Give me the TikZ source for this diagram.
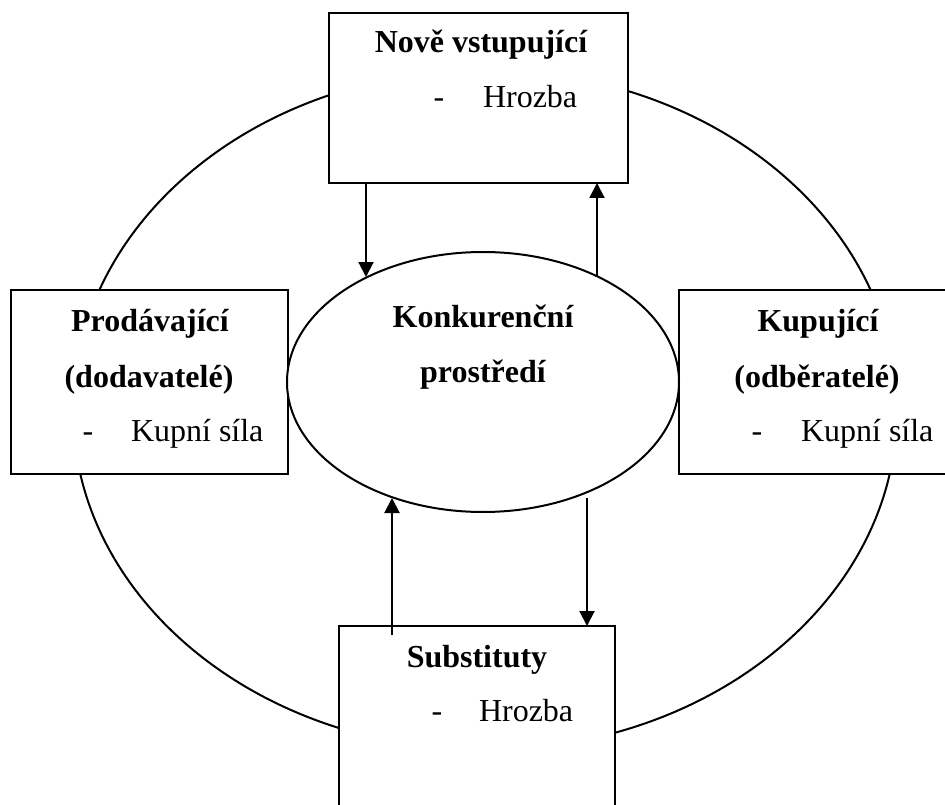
\documentclass[tikz,border=0pt]{standalone}
\usepackage{fontspec}
\setmainfont{Liberation Serif}
\usetikzlibrary{shapes.geometric,arrows.meta}
\begin{document}
\begin{tikzpicture}[x=1pt,y=-1pt, line width=2pt,
  box/.style={draw, fill=white, rectangle, outer sep=0pt, inner sep=0pt},
  oval/.style={draw, ellipse, outer sep=0pt, inner sep=0pt},
  arr/.style={-{Triangle[length=15pt,width=15pt]}, line width=2pt},
  title/.style={font=\fontsize{32}{40}\selectfont\bfseries, anchor=base, inner sep=0pt},
  txt/.style={font=\fontsize{32}{40}\selectfont, anchor=base, inner sep=0pt},
  txtw/.style={txt, anchor=base west}]
\useasboundingbox (0,0) rectangle (945,805);
\clip (0,0) rectangle (945,805);
% outer ellipse
\node[oval, minimum width=824pt, minimum height=680pt] (outer) at (485,410) {};
% boxes
\node[box, minimum width=299pt, minimum height=170pt] (top) at (478.5,98) {};
\node[box, minimum width=277pt, minimum height=184pt] (left) at (149.5,382) {};
\node[box, minimum width=286pt, minimum height=184pt] (right) at (822,382) {};
\node[box, minimum width=276pt, minimum height=204pt] (bot) at (477,728) {};
% inner ellipse
\node[oval, fill=white, minimum width=392pt, minimum height=260pt] (inner) at (483,382) {};
% arrow end points
\coordinate (c1) at (366,277);
\coordinate (c2) at (597,276);
\coordinate (c3) at (392,498);
\coordinate (c3s) at (392,635);
\coordinate (c4s) at (587,498);
\draw[arr] (top.south -| c1) -- (c1);
\draw[arr] (c2) -- (top.south -| c2);
\draw[arr] (c3s) -- (c3);
\draw[arr] (c4s) -- (bot.north -| c4s);
% texts
\node[title] (topT) at (481,53) {Nově vstupující};
\node[txt] (topD) at (439,108) {-};
\node[txtw] (topI) at (482,108) {Hrozba};
\node[title] (leftT1) at (150,331) {Prodávající};
\node[title] (leftT2) at (149,387) {(dodavatelé)};
\node[txt] (leftD) at (88,441) {-};
\node[txtw] (leftI) at (130,441) {Kupní síla};
\node[title] (rightT1) at (818,331) {Kupující};
\node[title] (rightT2) at (817,387) {(odběratelé)};
\node[txt] (rightD) at (757,441) {-};
\node[txtw] (rightI) at (800,441) {Kupní síla};
\node[title] (innT1) at (483,327) {Konkurenční};
\node[title] (innT2) at (483,382) {prostředí};
\node[title] (botT) at (477,667) {Substituty};
\node[txt] (botD) at (437,721) {-};
\node[txtw] (botI) at (478,721) {Hrozba};
\end{tikzpicture}
\end{document}
